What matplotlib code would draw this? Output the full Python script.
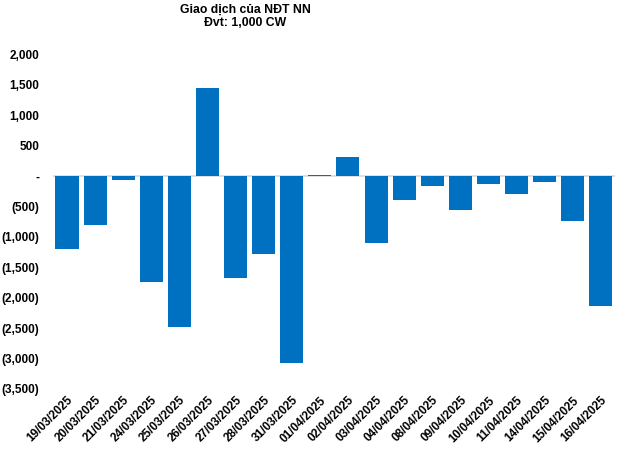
import matplotlib
matplotlib.use("Agg")
import matplotlib.pyplot as plt
from matplotlib.ticker import FuncFormatter

plt.rcParams['font.family'] = ['Liberation Sans', 'DejaVu Sans']

# Données : giao dịch của NĐT NN (đvt: 1,000 CW)
dates = ['19/03/2025', '20/03/2025', '21/03/2025', '24/03/2025', '25/03/2025',
         '26/03/2025', '27/03/2025', '28/03/2025', '31/03/2025', '01/04/2025',
         '02/04/2025', '03/04/2025', '04/04/2025', '08/04/2025', '09/04/2025',
         '10/04/2025', '11/04/2025', '14/04/2025', '15/04/2025', '16/04/2025']
values = [-1200, -800, -60, -1750, -2480,
          1450, -1670, -1280, -3070, 20,
          310, -1100, -400, -160, -560,
          -125, -290, -95, -735, -2130]

def fmt(v, pos):
    if abs(v) < 1e-9:
        return '-'
    if v < 0:
        return f'({abs(v):,.0f})'
    return f'{v:,.0f}'

fig = plt.figure(figsize=(6.23, 4.49), dpi=100)
ax = fig.add_axes([0.085, 0.134, 0.902, 0.745])

x = range(len(dates))
ax.bar(x, values, width=0.82, color='#0070C0', zorder=2)
ax.axhline(0, color='#D9D9D9', linewidth=1.2, zorder=1)

ax.set_xlim(-0.5, len(dates) - 0.5)
ax.set_ylim(-3500, 2000)
ax.set_yticks(range(-3500, 2001, 500))
ax.yaxis.set_major_formatter(FuncFormatter(fmt))
ax.set_xticks(list(x))
ax.set_xticklabels(dates, rotation=45, ha='right', rotation_mode='anchor')

for s in ax.spines.values():
    s.set_visible(False)
ax.tick_params(axis='both', length=0, labelsize=8.5)
ax.tick_params(axis='y', pad=10)
ax.tick_params(axis='x', pad=4)
for lbl in ax.get_xticklabels() + ax.get_yticklabels():
    lbl.set_fontweight('bold')

fig.text(0.394, 0.992, 'Giao dịch của NĐT NN\nĐvt: 1,000 CW', ha='center', va='top',
         fontsize=8.8, fontweight='bold', linespacing=1.15)

fig.savefig('out.png', dpi=100)
